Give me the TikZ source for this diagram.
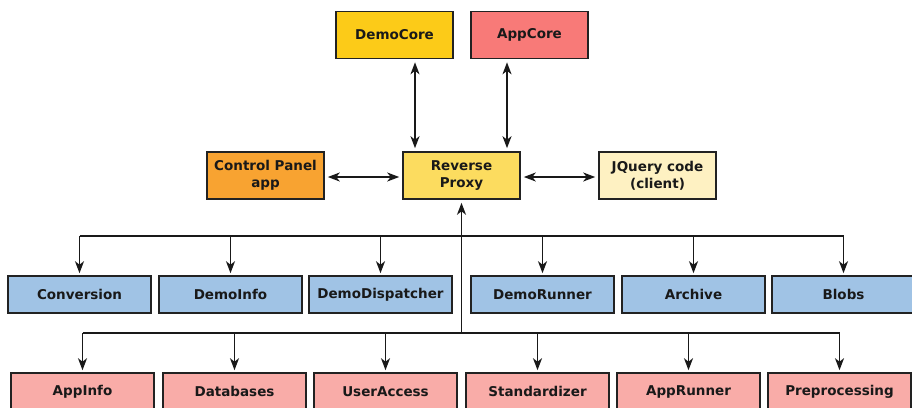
\documentclass[tikz,border=0pt]{standalone}
\usepackage{fontspec}
\setmainfont{DejaVu Sans}
\usetikzlibrary{arrows.meta}

\definecolor{edgegray}{HTML}{222222}
\definecolor{democore}{HTML}{FCCB18}
\definecolor{appcore}{HTML}{F87A78}
\definecolor{ctrlpanel}{HTML}{F8A331}
\definecolor{proxyfill}{HTML}{FCDC5F}
\definecolor{jqueryfill}{HTML}{FEF1C2}
\definecolor{demosvc}{HTML}{A0C3E5}
\definecolor{appsvc}{HTML}{F9ACA8}

\tikzset{
  tip/.tip={Stealth[length=12pt, width=9pt, inset=3.5pt]},
  box/.style={draw=edgegray, line width=1.6pt, rectangle, inner sep=0pt,
    font=\fontsize{13.5}{17}\selectfont\bfseries, text=black!90, align=center},
  topbox/.style={box, minimum width=117pt, minimum height=47pt},
  svcbox/.style={box, minimum width=143pt, minimum height=37pt},
  link/.style={line width=1.7pt, draw=black!90, arrows={-tip}},
  duplex/.style={line width=1.7pt, draw=black!90, arrows={tip-tip},
    shorten <=3pt, shorten >=3pt},
  bus/.style={line width=1.7pt, draw=black!90}
}

\begin{document}
\begin{tikzpicture}[x=1pt, y=-1pt]
  \useasboundingbox (0,0) rectangle (912,407);
  \clip (0,0) rectangle (912,407);

  % core services and the proxy
  \node[topbox, fill=democore]   (democore) at (394.5,35)  {DemoCore};
  \node[topbox, fill=appcore]    (appcore)  at (529.5,35)  {AppCore};
  \node[topbox, fill=ctrlpanel]  (control)  at (265.5,175.5) {Control Panel\\app};
  \node[topbox, fill=proxyfill]  (proxy)    at (461.5,175.5) {Reverse\\Proxy};
  \node[topbox, fill=jqueryfill] (jquery)   at (657.5,175.5) {JQuery code\\(client)};

  % demo-side modules
  \node[svcbox, fill=demosvc] (conversion) at (79.5,294.5)  {Conversion};
  \node[svcbox, fill=demosvc] (demoinfo)   at (230.5,294.5) {DemoInfo};
  \node[svcbox, fill=demosvc] (dispatcher) at (380.5,294.5) {DemoDispatcher};
  \node[svcbox, fill=demosvc] (demorunner) at (542.5,294.5) {DemoRunner};
  \node[svcbox, fill=demosvc] (archive)    at (693.5,294.5) {Archive};
  \node[svcbox, fill=demosvc] (blobs)      at (843.5,294.5) {Blobs};

  % app-side modules
  \node[svcbox, fill=appsvc] (appinfo)      at (82.5,391.5)  {AppInfo};
  \node[svcbox, fill=appsvc] (databases)    at (234.5,391.5) {Databases};
  \node[svcbox, fill=appsvc] (useraccess)   at (385.5,391.5) {UserAccess};
  \node[svcbox, fill=appsvc] (standardizer) at (537.5,391.5) {Standardizer};
  \node[svcbox, fill=appsvc] (apprunner)    at (688.5,391.5) {AppRunner};
  \node[svcbox, fill=appsvc] (preproc)      at (839.5,391.5) {Preprocessing};

  % bus levels
  \coordinate (demobus) at (0,236);
  \coordinate (appbus)  at (0,333);

  % proxy links
  \draw[duplex] ([xshift=20.5pt]democore.south) -- ([xshift=20.5pt]democore.south |- proxy.north);
  \draw[duplex] ([xshift=-22.5pt]appcore.south) -- ([xshift=-22.5pt]appcore.south |- proxy.north);
  \draw[duplex] ([yshift=-1.5pt]control.east) -- ([yshift=-1.5pt]proxy.west);
  \draw[duplex] ([yshift=-1.5pt]proxy.east) -- ([yshift=-1.5pt]jquery.west);

  % trunk from the module buses up to the proxy
  \draw[link, shorten >=3pt] (proxy.south |- appbus) -- (proxy.south);

  % demo bus
  \draw[bus] (conversion.north |- demobus) -- (blobs.north |- demobus);
  \foreach \n in {conversion,demoinfo,dispatcher,demorunner,archive,blobs}
    \draw[link, shorten >=2pt] (\n.north |- demobus) -- (\n.north);

  % app bus
  \draw[bus] (appinfo.north |- appbus) -- (preproc.north |- appbus);
  \foreach \n in {appinfo,databases,useraccess,standardizer,apprunner,preproc}
    \draw[link, shorten >=2pt] (\n.north |- appbus) -- (\n.north);
\end{tikzpicture}
\end{document}
